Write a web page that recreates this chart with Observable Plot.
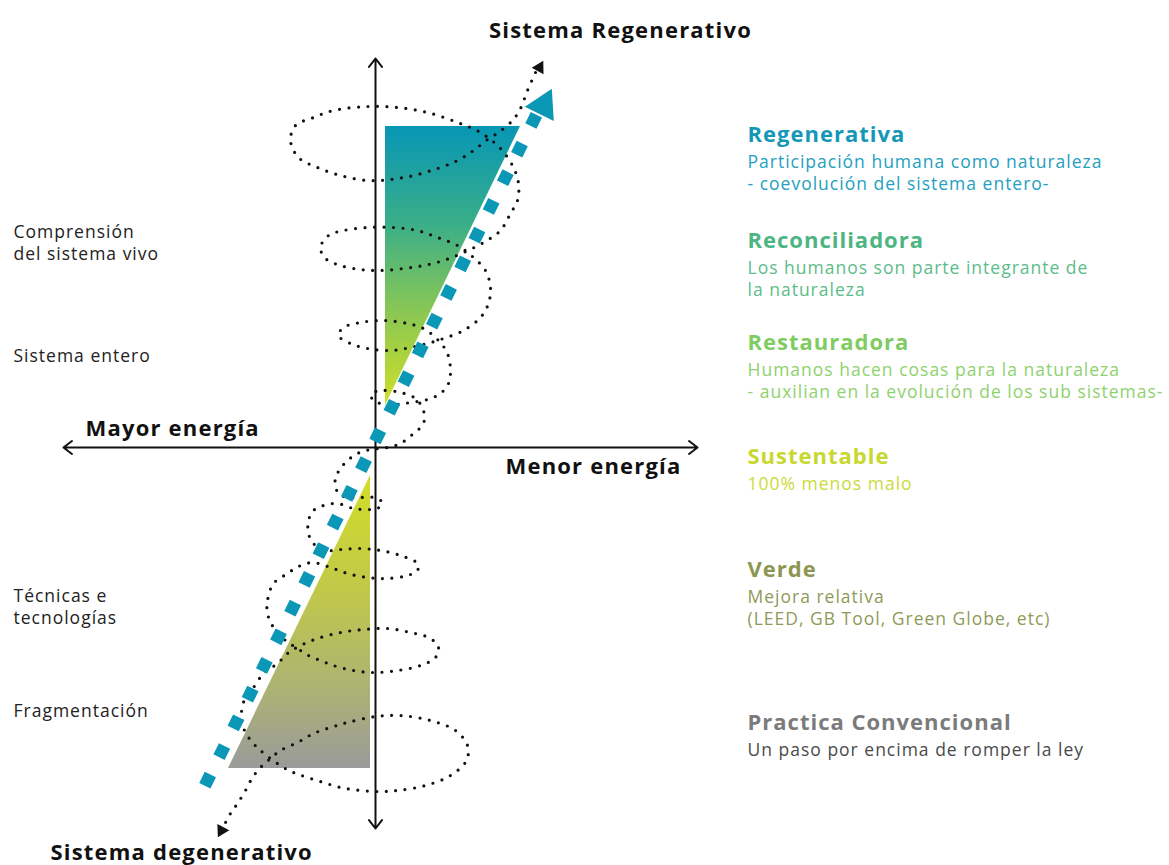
<!DOCTYPE html>
<html><head><meta charset="utf-8">
<script src="https://cdn.jsdelivr.net/npm/d3@7"></script>
<script src="https://cdn.jsdelivr.net/npm/@observablehq/plot@0.6"></script>
<style>body{margin:0;background:#fff}svg{display:block}</style>
</head><body><div id="chart"></div>
<script>
// ---- Diagram geometry (frame units = pixels of the 1169x865 diagram) ----
const axisOrigin = [375, 447];
const axisEnds = [[375, 58], [375, 828], [63, 447], [697, 447]];

const upperTriangle = [{y: 126, x1: 385, x2: 520}, {y: 405, x1: 385, x2: 385}];
const lowerTriangle = [{y: 475, x1: 370, x2: 370}, {y: 768, x1: 228, x2: 370}];

const tealPath = [[203, 788], [539, 108]];
const tealHead = [{x: 543, y: 105, angle: 26.5}];

const spiral = [
  [535,72],[527,90],[520,108],[512,120],[498,132],[487,139],[473,150],[457,160],[437,168],[413,175],
  [390,179],[367,180],[340,175],[317,167],[298,157],[290,140],[295,125],[313,117],[333,110],[367,106],
  [397,107],[427,112],[457,122],[480,132],[500,148],[513,167],[518,183],[517,200],[510,213],[500,230],
  [483,242],[463,252],[443,260],[423,265],[403,268],[380,270],[360,269],[340,265],[325,258],[320,247],
  [328,235],[343,230],[367,227],[393,227],[417,230],[437,237],[457,245],[473,257],[485,270],[490,287],
  [488,303],[480,317],[463,330],[443,338],[427,343],[410,347],[390,350],[367,348],[350,343],[338,335],
  [343,327],[360,322],[383,320],[407,323],[423,328],[438,340],[447,353],[450,370],[448,383],[440,393],
  [427,399],[410,402],[395,404],[380,403],[372,399],[371,393],[382,390],[400,392],[415,398],[423,410],
  [423,423],[413,433],[400,443],[387,447],[370,449],[357,453],[347,460],[340,468],[335,477],[335,485],
  [338,493],[347,497],[360,497],[373,497],[382,502],[377,508],[367,509],[353,508],[337,503],[323,505],
  [313,510],[308,520],[308,533],[313,543],[323,550],[340,549],[360,548],[380,550],[400,555],[417,563],
  [417,570],[407,575],[387,578],[367,577],[347,573],[330,567],[312,562],[298,566],[287,573],[273,583],
  [267,600],[267,613],[273,627],[285,640],[297,648],[308,655],[320,660],[333,665],[353,670],[373,672],
  [397,670],[420,665],[435,657],[438,647],[430,638],[410,632],[387,628],[363,629],[340,632],[317,638],
  [300,645],[287,653],[277,663],[263,673],[253,687],[245,697],[241,712],[244,730],[252,742],[260,750],
  [270,758],[283,767],[293,772],[307,777],[323,782],[340,787],[360,790],[380,791],[397,790],[425,785],
  [450,775],[466,760],[467,745],[455,730],[430,720],[400,715],[375,716],[347,722],[330,727],[313,733],
  [297,742],[280,750],[270,758],[260,767],[252,777],[245,790],[237,803],[230,813],[224,824]
];
const spiralHeads = [{x: 539, y: 67, angle: 29}, {x: 221, y: 830, angle: 208}];

// ---- Texts ----
const topTitle = [{text: "Sistema Regenerativo", x: 620, y: 30}];
const cornerTitles = [
  {text: "Sistema degenerativo", x: 50, y: 852},
  {text: "Mayor energía", x: 85, y: 428},
  {text: "Menor energía", x: 505, y: 466}
];
const sideLabels = ["Comprensión", "del sistema vivo", "Sistema entero", "Técnicas e", "tecnologías", "Fragmentación"];
const sideLabelY = [232, 254, 356, 596, 618, 711];

const levels = ["Regenerativa", "Reconciliadora", "Restauradora", "Sustentable", "Verde", "Practica Convencional"];
const levelY = [134, 240, 342, 456, 569, 722];
const levelColors = ["#1597b8", "#4cb582", "#7fcc62", "#c7d82f", "#8c9650", "#7b7b7b"];
const levelTextColors = ["#24a0c0", "#5cbc8a", "#8ed26e", "#cadb3a", "#8f9a58", "#4a4a4a"];
const levelDescriptions = [
  ["Participación humana como naturaleza", "- coevolución del sistema entero-"],
  ["Los humanos son parte integrante de", "la naturaleza"],
  ["Humanos hacen cosas para la naturaleza", "- auxilian en la evolución de los sub sistemas-"],
  ["100% menos malo"],
  ["Mejora relativa", "(LEED, GB Tool, Green Globe, etc)"],
  ["Un paso por encima de romper la ley"]
];

// ---- derived tables ----
const axisArrows = axisEnds.map(([x, y]) => ({x1: axisOrigin[0], y1: axisOrigin[1], x2: x, y2: y}));
const headRows = levels.map((t, i) => ({text: t, y: levelY[i], color: levelColors[i]}));
const descRows = levelDescriptions.flatMap((lines, i) =>
  lines.map((t, j) => ({text: t, y: levelY[i] + 28 + j * 21.5, color: levelTextColors[i]})));
const sideRows = sideLabels.map((t, i) => ({text: t, y: sideLabelY[i]}));

const defs = () => {
  const d = document.createElementNS("http://www.w3.org/2000/svg", "defs");
  d.innerHTML = `
  <linearGradient id="gradUp" x1="0" y1="0" x2="0" y2="1">
    <stop offset="0" stop-color="#0796b5"/>
    <stop offset="0.35" stop-color="#3aae88"/>
    <stop offset="0.65" stop-color="#86c656"/>
    <stop offset="1" stop-color="#d0df28"/>
  </linearGradient>
  <linearGradient id="gradDown" x1="0" y1="0" x2="0" y2="1">
    <stop offset="0" stop-color="#d3de27"/>
    <stop offset="0.4" stop-color="#c0c84a"/>
    <stop offset="0.75" stop-color="#abb176"/>
    <stop offset="1" stop-color="#9a9a9a"/>
  </linearGradient>`;
  return d;
};

const font = "'Open Sans', 'Noto Sans', sans-serif";

const chart = Plot.plot({
  width: 1169, height: 865,
  margin: 0,
  x: {domain: [0, 1169], range: [0, 1169], axis: null},
  y: {domain: [0, 865], range: [0, 865], axis: null},
  style: {fontFamily: font, background: "#fff"},
  marks: [
    defs,
    Plot.areaX(upperTriangle, {y: "y", x1: "x1", x2: "x2", fill: "url(#gradUp)"}),
    Plot.areaX(lowerTriangle, {y: "y", x1: "x1", x2: "x2", fill: "url(#gradDown)"}),
    Plot.arrow(axisArrows, {x1: "x1", y1: "y1", x2: "x2", y2: "y2", stroke: "#111", strokeWidth: 2, headLength: 8, headAngle: 75}),
    Plot.line(spiral, {x: d => d[0], y: d => d[1], curve: "catmull-rom", stroke: "#111", strokeWidth: 3.2, strokeDasharray: "0 9.5", strokeLinecap: "round"}),
    Plot.dot(spiralHeads, {x: "x", y: "y", symbol: "triangle", r: 5, fill: "#111", rotate: "angle"}),
    Plot.line(tealPath, {x: d => d[0], y: d => d[1], stroke: "#0b97b6", strokeWidth: 12.5, strokeDasharray: "12.5 19.5", strokeDashoffset: -3, strokeLinecap: "butt"}),
    Plot.dot(tealHead, {x: "x", y: "y", symbol: "triangle", r: 12, fill: "#0b97b6", rotate: "angle"}),
    Plot.text(topTitle, {x: "x", y: "y", text: "text", textAnchor: "middle", fontSize: 22, fontWeight: 700, fill: "#111", fontFamily: font, ariaDescription: "titles"}),
    Plot.text(cornerTitles, {x: "x", y: "y", text: "text", textAnchor: "start", fontSize: 22, fontWeight: 700, fill: "#111", fontFamily: font, ariaDescription: "titles"}),
    Plot.text(sideRows, {x: 13, y: "y", text: "text", textAnchor: "start", fontSize: 17.5, fill: "#222", fontFamily: font, ariaDescription: "side"}),
    Plot.text(headRows, {x: 747, y: "y", text: "text", textAnchor: "start", fontSize: 22, fontWeight: 700, fill: "color", fontFamily: font, ariaDescription: "heads"}),
    Plot.text(descRows, {x: 747, y: "y", text: "text", textAnchor: "start", fontSize: 17.5, fill: "color", fontFamily: font, ariaDescription: "descs"})
  ]
});
const spacing = {titles: "1.2px", side: "1px", heads: "1px", descs: "1px"};
for (const [k, v] of Object.entries(spacing)) {
  chart.querySelectorAll(`g[aria-description="${k}"]`).forEach(g => {
    g.style.letterSpacing = v;
    g.querySelectorAll("text").forEach(t => t.setAttribute("letter-spacing", v));
  });
}
document.getElementById("chart").appendChild(chart);
</script>
</body></html>
